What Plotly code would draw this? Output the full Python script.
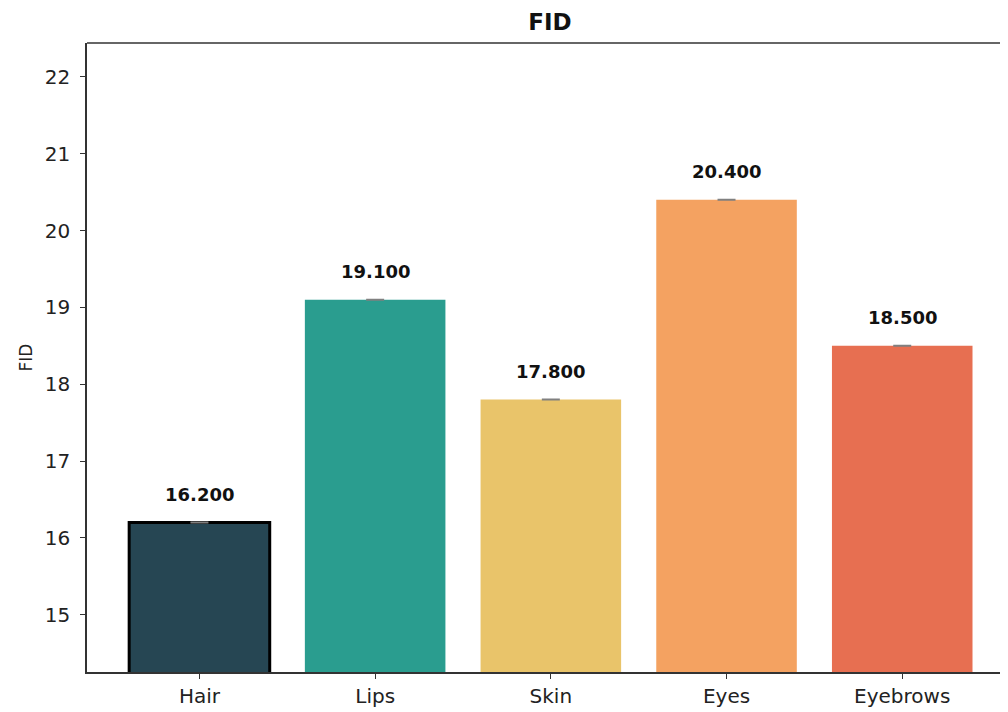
import plotly.graph_objects as go

categories = ["Hair", "Lips", "Skin", "Eyes", "Eyebrows"]
fid_values = [16.2, 19.1, 17.8, 20.4, 18.5]
fid_errors = [0.0, 0.0, 0.0, 0.0, 0.0]
bar_colors = ["#264653", "#2a9d8f", "#e9c46a", "#f4a261", "#e76f51"]
y_ticks = [15, 16, 17, 18, 19, 20, 21, 22]

FONT = "DejaVu Sans"
x_idx = list(range(len(categories)))

# page has an 8px body margin; figure is 1000x704 placed at (8, 8)
W, H = 1000, 704
L, T, B, R = 79, 35, 40, 0
plot_w = W - L - R

fig = go.Figure()
fig.add_trace(go.Bar(
    x=x_idx,
    y=fid_values,
    width=0.8,
    marker=dict(
        color=bar_colors,
        line=dict(color=["#000000", "rgba(0,0,0,0)", "rgba(0,0,0,0)", "rgba(0,0,0,0)", "rgba(0,0,0,0)"],
                  width=[3, 0, 0, 0, 0]),
    ),
    error_y=dict(type="data", array=fid_errors, visible=True, color="#808080", thickness=2, width=9),
    showlegend=False,
    hoverinfo="skip",
))

annotations = []
for i, v in enumerate(fid_values):
    annotations.append(dict(
        x=i, y=v, xref="x", yref="y", text=f"<b>{v:.3f}</b>",
        showarrow=False, yanchor="middle", yshift=28,
        font=dict(family=FONT, size=18, color="#111111"),
    ))
annotations.append(dict(
    x=-62 / plot_w, y=0.5, xref="paper", yref="paper", text="FID", textangle=-90,
    showarrow=False, xanchor="center", yanchor="middle",
    font=dict(family=FONT, size=17, color="#222222"),
))

fig.update_layout(
    width=W, height=H,
    margin=dict(l=L, r=R, t=T, b=B),
    paper_bgcolor="white", plot_bgcolor="white",
    title=dict(text="<b>FID</b>", x=(550 - 8) / W, xref="container", xanchor="center",
               y=1 - 14 / H, yref="container", yanchor="middle",
               font=dict(family=FONT, size=23, color="#111111")),
    annotations=annotations,
    shapes=[dict(type="line", xref="paper", yref="paper", x0=0, x1=1, y0=1, y1=1,
                 line=dict(color="#333333", width=1.5))],
    font=dict(family=FONT, color="#222222"),
)
fig.update_xaxes(
    range=[-0.64, 4.602],
    tickmode="array", tickvals=x_idx, ticktext=categories,
    ticks="outside", ticklen=5, tickwidth=1.3, tickcolor="#333333",
    showline=True, linecolor="#333333", linewidth=1.5,
    showgrid=False, zeroline=False,
    tickfont=dict(family=FONT, size=20, color="#222222"),
)
fig.update_yaxes(
    range=[14.256, 22.44],
    tickmode="array", tickvals=y_ticks,
    ticks="outside", ticklen=5, tickwidth=1.3, tickcolor="#333333",
    ticklabelstandoff=6,
    showline=True, linecolor="#333333", linewidth=1.5,
    showgrid=False, zeroline=False,
    tickfont=dict(family=FONT, size=20, color="#222222"),
)

fig.write_html("out.html")
